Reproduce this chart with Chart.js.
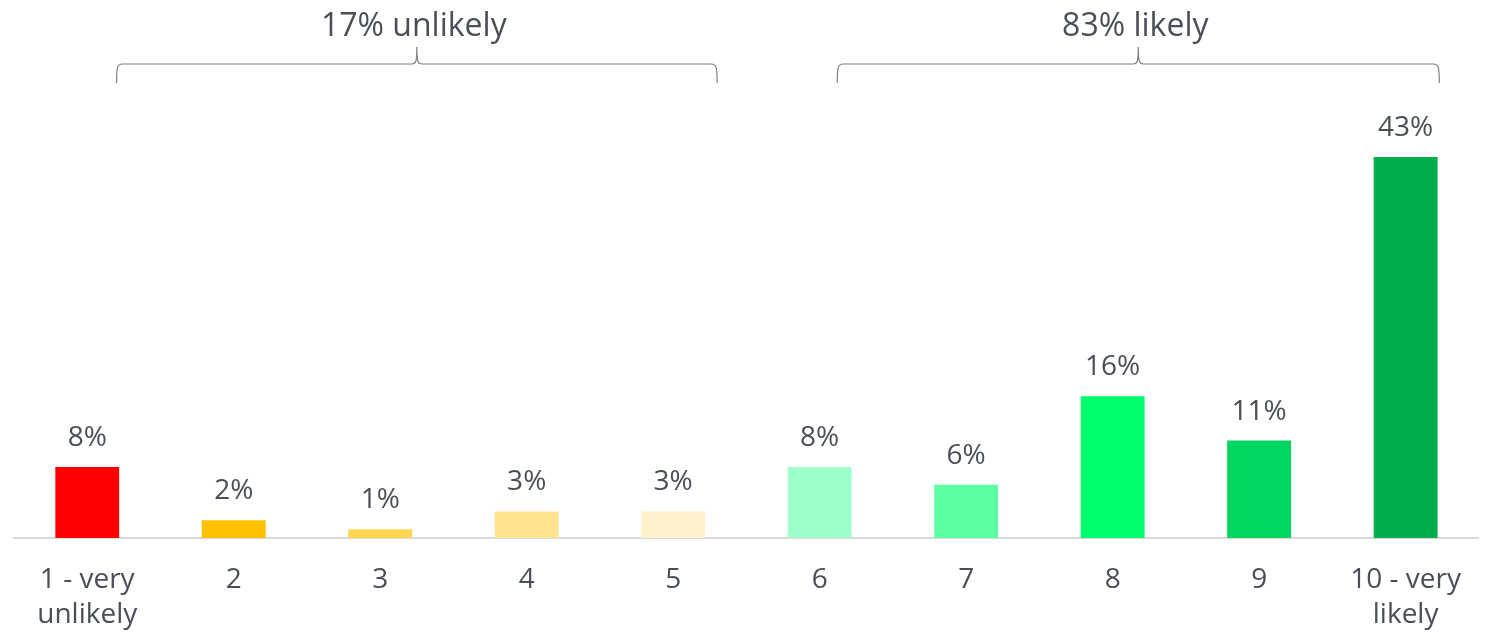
<!DOCTYPE html>
<html>
<head>
<meta charset="utf-8">
<script src="https://cdn.jsdelivr.net/npm/chart.js@4/dist/chart.umd.min.js"></script>
<style>
  html, body { margin: 0; padding: 0; background: #fff; }
  #wrap { width: 1486px; height: 632px; }
</style>
</head>
<body>
<div id="wrap"><canvas id="npsChart"></canvas></div>
<script>
const categories = [['1 - very', 'unlikely'], '2', '3', '4', '5', '6', '7', '8', '9', ['10 - very', 'likely']]
const shares = [8, 2, 1, 3, 3, 8, 6, 16, 11, 43]
const barColors = ['#ff0000', '#ffc000', '#ffd44f', '#ffe390', '#fff1c9', '#9dffc9', '#5cffa2', '#00ff6c', '#00d660', '#00ad4c']
// groups shown with a brace above the bars: [first index, last index, label]
const groups = [
    [0, 4, '17% unlikely'],
    [5, 9, '83% likely']
]

const textColor = '#4a4f57'
const fontFamily = '"Open Sans", sans-serif'

const valueLabels = {
    id: 'valueLabels',
    afterDatasetsDraw(chart) {
        const ctx = chart.ctx
        const meta = chart.getDatasetMeta(0)
        ctx.save()
        ctx.font = '28px ' + fontFamily
        ctx.fillStyle = textColor
        ctx.textAlign = 'center'
        ctx.textBaseline = 'middle'
        meta.data.forEach((bar, i) => {
            ctx.fillText(shares[i] + '%', bar.x, bar.y - 29)
        })
        ctx.restore()
    }
}

const braces = {
    id: 'braces',
    afterDraw(chart) {
        const ctx = chart.ctx
        const x = chart.scales.x
        const step = x.getPixelForValue(1) - x.getPixelForValue(0)
        const lineY = 64, endY = 83, tipY = 47
        ctx.save()
        ctx.strokeStyle = '#7f7f7f'
        ctx.lineWidth = 1.2
        groups.forEach(([from, to, label], g) => {
            // brace ends sit a little inside the outer bars
            const x0 = x.getPixelForValue(from) + (g === 0 ? 0.2 : 0.12) * step
            const x1 = x.getPixelForValue(to) + (g === 0 ? 0.3 : 0.23) * step
            const mid = (x0 + x1) / 2
            ctx.beginPath()
            ctx.moveTo(x0, endY)
            ctx.bezierCurveTo(x0, lineY + 2, x0 + 1, lineY, x0 + 6, lineY)
            ctx.lineTo(mid - 5, lineY)
            ctx.bezierCurveTo(mid - 1, lineY, mid, lineY - 2, mid, tipY)
            ctx.moveTo(mid, tipY)
            ctx.bezierCurveTo(mid, lineY - 2, mid + 1, lineY, mid + 5, lineY)
            ctx.lineTo(x1 - 6, lineY)
            ctx.bezierCurveTo(x1 - 1, lineY, x1, lineY + 2, x1, endY)
            ctx.stroke()

            ctx.font = '32px ' + fontFamily
            ctx.fillStyle = textColor
            ctx.textAlign = 'center'
            ctx.textBaseline = 'middle'
            ctx.fillText(label, mid - 3, 27)
        })
        ctx.restore()
    }
}

new Chart(document.getElementById('npsChart'), {
    type: 'bar',
    data: {
        labels: categories,
        datasets: [
            {
                data: shares,
                backgroundColor: barColors,
                categoryPercentage: 1,
                barPercentage: 0.436
            }
        ]
    },
    options: {
        responsive: true,
        maintainAspectRatio: false,
        animation: false,
        layout: {
            padding: { top: 95, left: 14, right: -4, bottom: -26 }
        },
        plugins: {
            legend: { display: false },
            tooltip: { enabled: false }
        },
        scales: {
            x: {
                grid: { display: false, drawTicks: false },
                border: { display: true, color: '#d9d9d9', width: 2 },
                ticks: {
                    color: textColor,
                    padding: 25,
                    maxRotation: 0,
                    autoSkip: false,
                    font: { family: fontFamily, size: 28, lineHeight: 1.25 }
                }
            },
            y: {
                display: false,
                min: 0,
                max: 50
            }
        }
    },
    plugins: [valueLabels, braces]
})
</script>
</body>
</html>
